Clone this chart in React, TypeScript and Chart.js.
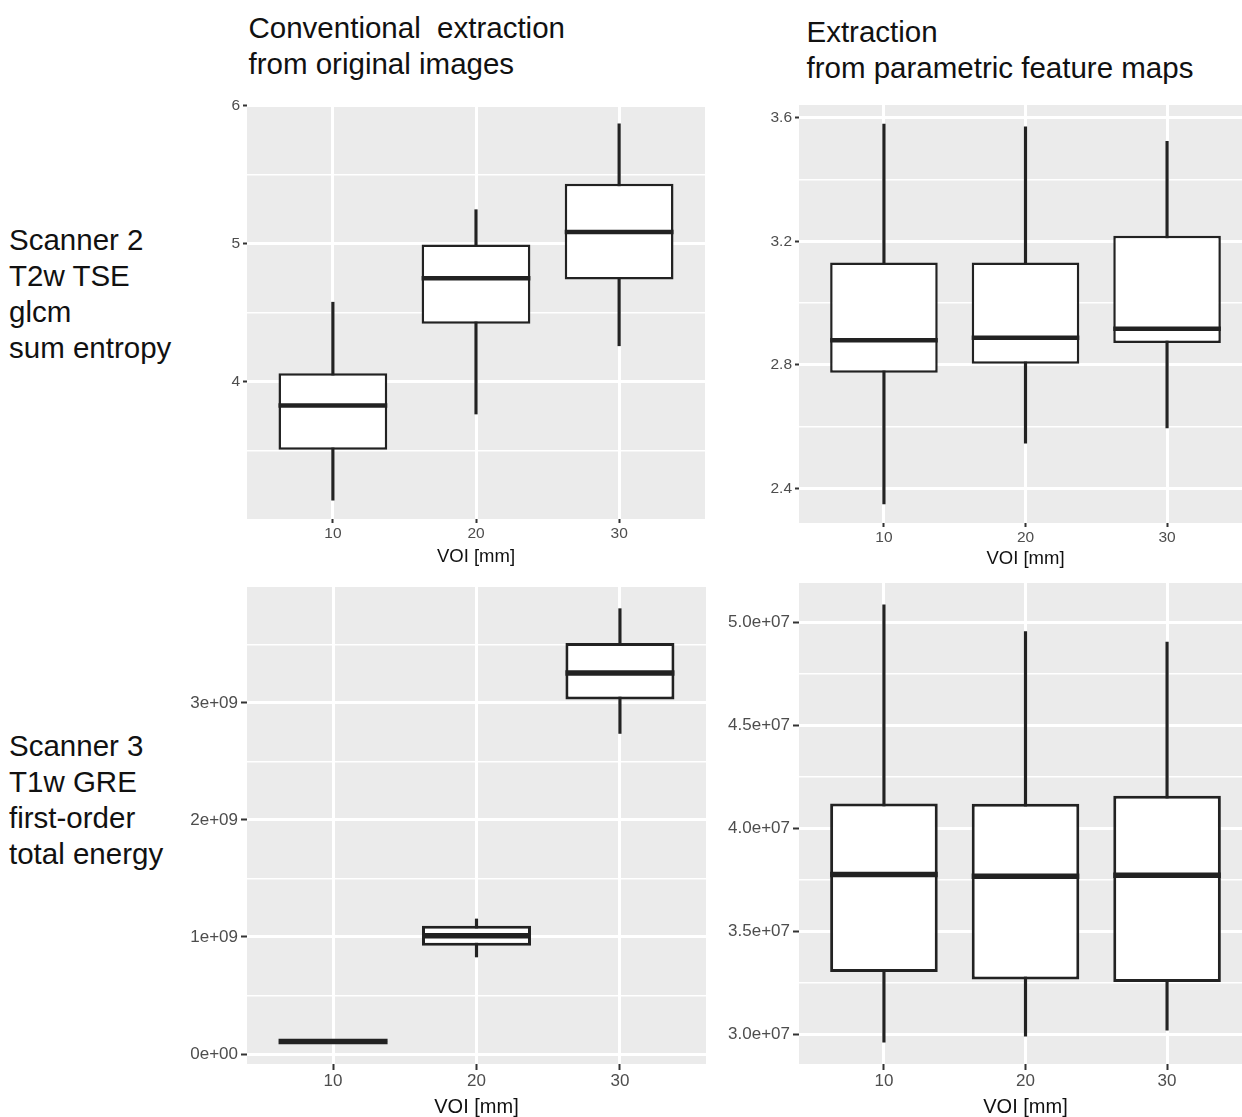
import React, { useEffect, useRef } from 'react';
import { Chart, registerables } from 'chart.js';

Chart.register(...registerables);

const FONT = "'Liberation Sans', Arial, Helvetica, sans-serif";

// ---------- data ----------
const voiCategories = ['10', '20', '30'];

// Scanner 2, T2w TSE, glcm sum entropy — conventional extraction
const convEntropyLow = [3.14, 3.765, 4.26];
const convEntropyQ1 = [3.506, 4.42, 4.741];
const convEntropyMedian = [3.826, 4.75, 5.085];
const convEntropyQ3 = [4.06, 4.995, 5.436];
const convEntropyHigh = [4.576, 5.247, 5.87];
const convEntropyTicks = [4, 5, 6];
const convEntropyTickLabels = ['4', '5', '6'];
const convEntropyMinor = [3.5, 4.5, 5.5];

// Scanner 2, T2w TSE, glcm sum entropy — parametric feature maps
const mapEntropyLow = [2.35, 2.547, 2.596];
const mapEntropyQ1 = [2.775, 2.804, 2.871];
const mapEntropyMedian = [2.88, 2.888, 2.917];
const mapEntropyQ3 = [3.132, 3.132, 3.218];
const mapEntropyHigh = [3.58, 3.571, 3.524];
const mapEntropyTicks = [2.4, 2.8, 3.2, 3.6];
const mapEntropyTickLabels = ['2.4', '2.8', '3.2', '3.6'];
const mapEntropyMinor = [2.6, 3.0, 3.4];

// Scanner 3, T1w GRE, first-order total energy — conventional extraction
const convEnergyLow = [0.100e9, 0.829e9, 2.739e9];
const convEnergyQ1 = [0.104e9, 0.926e9, 3.029e9];
const convEnergyMedian = [0.107e9, 1.011e9, 3.256e9];
const convEnergyQ3 = [0.110e9, 1.096e9, 3.512e9];
const convEnergyHigh = [0.113e9, 1.154e9, 3.805e9];
const convEnergyTicks = [0, 1e9, 2e9, 3e9];
const convEnergyTickLabels = ['0e+00', '1e+09', '2e+09', '3e+09'];
const convEnergyMinor = [0.5e9, 1.5e9, 2.5e9, 3.5e9];

// Scanner 3, T1w GRE, first-order total energy — parametric feature maps
const mapEnergyLow = [2.963e7, 2.992e7, 3.021e7];
const mapEnergyQ1 = [3.303e7, 3.267e7, 3.255e7];
const mapEnergyMedian = [3.777e7, 3.769e7, 3.773e7];
const mapEnergyQ3 = [4.121e7, 4.12e7, 4.159e7];
const mapEnergyHigh = [5.086e7, 4.956e7, 4.905e7];
const mapEnergyTicks = [3.0e7, 3.5e7, 4.0e7, 4.5e7, 5.0e7];
const mapEnergyTickLabels = ['3.0e+07', '3.5e+07', '4.0e+07', '4.5e+07', '5.0e+07'];
const mapEnergyMinor = [3.25e7, 3.75e7, 4.25e7, 4.75e7];

const xAxisTitle = 'VOI [mm]';
const columnTitles = [['Conventional  extraction', 'from original images'], ['Extraction', 'from parametric feature maps']];
const rowTitles = [['Scanner 2', 'T2w TSE', 'glcm', 'sum entropy'], ['Scanner 3', 'T1w GRE', 'first-order', 'total energy']];

// ---------- layout ----------
type Style = {
  yFont: number; xFont: number; titleFont: number; tickLen: number; xPad: number;
  boxBorder: number; medianWidth: number; whisker: number; major: number; minor: number;
};
const topStyle: Style = { yFont: 15.5, xFont: 15.5, titleFont: 18.5, tickLen: 4, xPad: 1, boxBorder: 2.5, medianWidth: 4.5, whisker: 2.5, major: 3, minor: 1.5 };
const bottomStyle: Style = { yFont: 17, xFont: 17, titleFont: 20, tickLen: 6, xPad: 1, boxBorder: 3, medianWidth: 5.5, whisker: 2.5, major: 3, minor: 1.5 };

const Y_AXIS_W = 100;
const PAD_TOP = 14;
const PAD_RIGHT = 6;

type PanelProps = {
  low: number[]; q1: number[]; med: number[]; q3: number[]; high: number[];
  ticks: number[]; tickLabels: string[]; minor: number[];
  panelLeft: number; panelTop: number; panelW: number; panelH: number; xAxisH: number;
  st: Style;
};

function ggLimits(low: number[], high: number[]): [number, number] {
  const mn = Math.min(...low);
  const mx = Math.max(...high);
  const r = mx - mn;
  return [mn - 0.05 * r, mx + 0.05 * r];
}

function BoxPanel(p: PanelProps) {
  const ref = useRef<HTMLCanvasElement | null>(null);
  const width = Y_AXIS_W + p.panelW + PAD_RIGHT;
  const height = PAD_TOP + p.panelH + p.xAxisH;

  useEffect(() => {
    if (!ref.current) return;
    const [yMin, yMax] = ggLimits(p.low, p.high);
    const allTicks = [...p.ticks, ...p.minor].filter(v => v >= yMin && v <= yMax).sort((a, b) => a - b);
    const isMajor = (v: number) => p.ticks.some(t => Math.abs(t - v) < 1e-9 * Math.max(1, Math.abs(t)));
    const st = p.st;

    const bgPlugin = {
      id: 'panelBg',
      beforeDraw(chart: any) {
        const { ctx, chartArea } = chart;
        ctx.save();
        ctx.fillStyle = '#ebebeb';
        ctx.fillRect(chartArea.left, chartArea.top, chartArea.right - chartArea.left, chartArea.bottom - chartArea.top);
        ctx.restore();
      },
    };
    const medianPlugin = {
      id: 'medians',
      afterDatasetsDraw(chart: any) {
        const { ctx } = chart;
        const meta = chart.getDatasetMeta(1);
        const ys = chart.scales.y;
        ctx.save();
        ctx.strokeStyle = '#222';
        ctx.lineWidth = st.medianWidth;
        ctx.lineCap = 'butt';
        p.med.forEach((m, i) => {
          const el = meta.data[i];
          if (!el) return;
          const y = ys.getPixelForValue(m);
          ctx.beginPath();
          ctx.moveTo(el.x - el.width / 2, y);
          ctx.lineTo(el.x + el.width / 2, y);
          ctx.stroke();
        });
        ctx.restore();
      },
    };

    const chart = new Chart(ref.current, {
      type: 'bar',
      data: {
        datasets: [
          {
            label: 'whiskers',
            data: voiCategories.map((_, i) => ({ x: i + 1, y: [p.low[i], p.high[i]] })) as any,
            backgroundColor: '#222',
            borderWidth: 0,
            barThickness: st.whisker,
            grouped: false,
            order: 2,
          } as any,
          {
            label: 'boxes',
            data: voiCategories.map((_, i) => ({ x: i + 1, y: [p.q1[i], p.q3[i]] })) as any,
            backgroundColor: '#ffffff',
            borderColor: '#222',
            borderWidth: st.boxBorder,
            borderSkipped: false,
            categoryPercentage: 1,
            barPercentage: 0.76,
            grouped: false,
            order: 1,
          } as any,
        ],
      },
      options: {
        animation: false,
        responsive: false,
        devicePixelRatio: 1,
        layout: { padding: { top: PAD_TOP, right: PAD_RIGHT, left: 0, bottom: 0 } },
        plugins: { legend: { display: false }, tooltip: { enabled: false } },
        scales: {
          x: {
            type: 'linear',
            min: 0.4,
            max: 3.6,
            offset: false,
            afterBuildTicks: (s: any) => { s.ticks = voiCategories.map((_, i) => ({ value: i + 1 })); },
            afterFit: (s: any) => { s.height = p.xAxisH; },
            ticks: {
              autoSkip: false,
              maxRotation: 0,
              padding: st.xPad,
              color: '#4d4d4d',
              font: { family: FONT, size: st.xFont },
              callback: (v: any) => voiCategories[Math.round(Number(v)) - 1] ?? '',
            },
            grid: {
              offset: false,
              color: '#ffffff',
              lineWidth: st.major,
              drawTicks: true,
              tickLength: st.tickLen,
              tickColor: '#333',
              tickWidth: 2,
            },
            border: { display: false },
            title: {
              display: true,
              text: xAxisTitle,
              color: '#111',
              padding: 0,
              font: { family: FONT, size: st.titleFont },
            },
          } as any,
          y: {
            type: 'linear',
            min: yMin,
            max: yMax,
            afterBuildTicks: (s: any) => { s.ticks = allTicks.map(v => ({ value: v })); },
            afterFit: (s: any) => { s.width = Y_AXIS_W; },
            ticks: {
              autoSkip: false,
              padding: 3,
              color: '#4d4d4d',
              font: { family: FONT, size: st.yFont },
              callback: (v: any) => {
                const idx = p.ticks.findIndex(t => Math.abs(t - Number(v)) < 1e-9 * Math.max(1, Math.abs(t)));
                return idx >= 0 ? p.tickLabels[idx] : '';
              },
            },
            grid: {
              color: '#ffffff',
              lineWidth: (c: any) => (c.tick && isMajor(c.tick.value) ? st.major : st.minor),
              drawTicks: true,
              tickLength: st.tickLen,
              tickColor: (c: any) => (c.tick && isMajor(c.tick.value) ? '#333' : 'rgba(0,0,0,0)'),
              tickWidth: 2,
            },
            border: { display: false },
          } as any,
        },
      },
      plugins: [bgPlugin, medianPlugin],
    });
    return () => chart.destroy();
  }, []);

  return (
    <canvas
      ref={ref}
      width={width}
      height={height}
      style={{
        position: 'absolute',
        left: p.panelLeft - Y_AXIS_W,
        top: p.panelTop - PAD_TOP,
        width,
        height,
      }}
    />
  );
}

const textStyle: React.CSSProperties = {
  position: 'absolute',
  fontFamily: FONT,
  fontSize: 29.5,
  lineHeight: '36px',
  color: '#111',
  whiteSpace: 'pre',
};

export default function App() {
  return (
    <div style={{ position: 'fixed', left: 0, top: 0, width: 1242, height: 1117, overflow: 'hidden', background: '#fff' }}>
      <div style={{ ...textStyle, left: 248.5, top: 10 }}>
        {columnTitles[0].map((t, i) => <div key={i}>{t}</div>)}
      </div>
      <div style={{ ...textStyle, left: 806.5, top: 14 }}>
        {columnTitles[1].map((t, i) => <div key={i}>{t}</div>)}
      </div>
      <div style={{ ...textStyle, left: 9, top: 222 }}>
        {rowTitles[0].map((t, i) => <div key={i}>{t}</div>)}
      </div>
      <div style={{ ...textStyle, left: 9, top: 728 }}>
        {rowTitles[1].map((t, i) => <div key={i}>{t}</div>)}
      </div>

      <BoxPanel
        low={convEntropyLow} q1={convEntropyQ1} med={convEntropyMedian} q3={convEntropyQ3} high={convEntropyHigh}
        ticks={convEntropyTicks} tickLabels={convEntropyTickLabels} minor={convEntropyMinor}
        panelLeft={247} panelTop={105} panelW={458} panelH={414} xAxisH={49} st={topStyle}
      />
      <BoxPanel
        low={mapEntropyLow} q1={mapEntropyQ1} med={mapEntropyMedian} q3={mapEntropyQ3} high={mapEntropyHigh}
        ticks={mapEntropyTicks} tickLabels={mapEntropyTickLabels} minor={mapEntropyMinor}
        panelLeft={799} panelTop={105} panelW={453} panelH={418} xAxisH={47} st={topStyle}
      />
      <BoxPanel
        low={convEnergyLow} q1={convEnergyQ1} med={convEnergyMedian} q3={convEnergyQ3} high={convEnergyHigh}
        ticks={convEnergyTicks} tickLabels={convEnergyTickLabels} minor={convEnergyMinor}
        panelLeft={247} panelTop={587} panelW={459} panelH={477} xAxisH={55} st={bottomStyle}
      />
      <BoxPanel
        low={mapEnergyLow} q1={mapEnergyQ1} med={mapEnergyMedian} q3={mapEnergyQ3} high={mapEnergyHigh}
        ticks={mapEnergyTicks} tickLabels={mapEnergyTickLabels} minor={mapEnergyMinor}
        panelLeft={799} panelTop={583} panelW={453} panelH={481} xAxisH={55} st={bottomStyle}
      />
    </div>
  );
}
